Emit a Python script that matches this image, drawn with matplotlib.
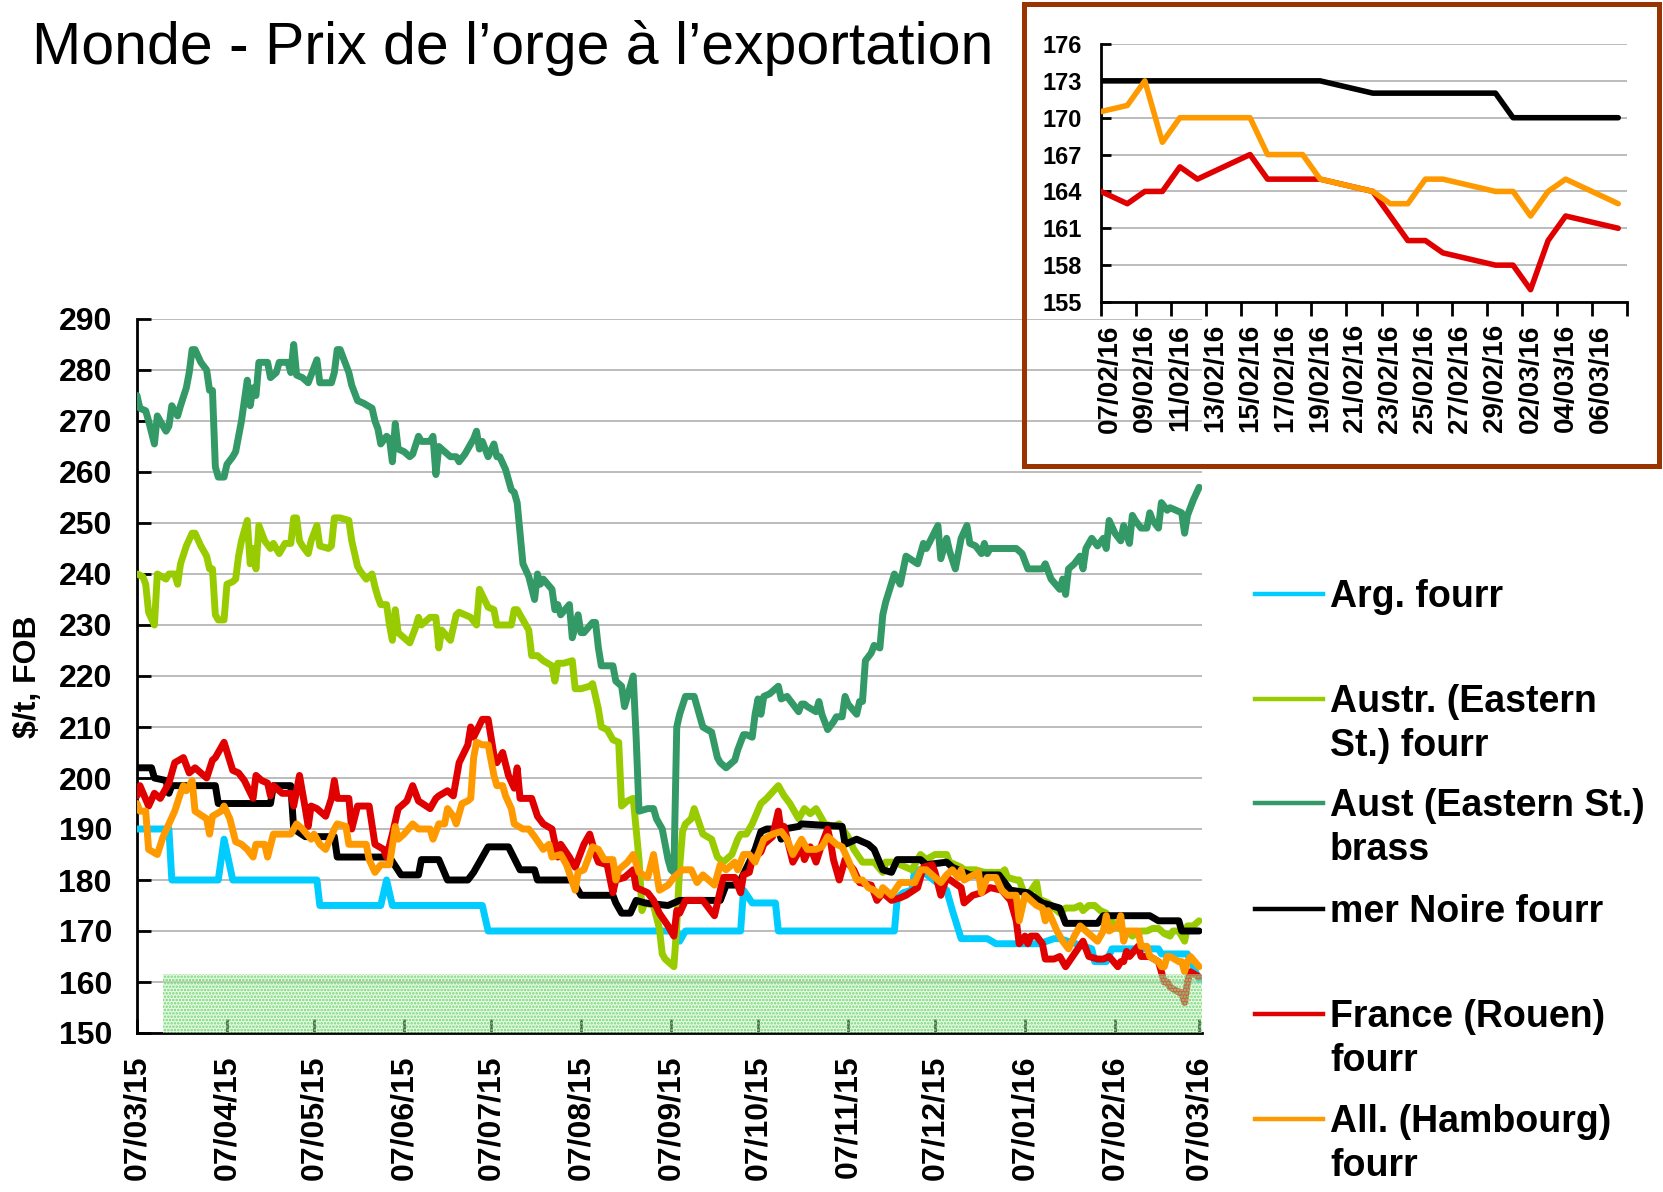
import matplotlib
matplotlib.use('Agg')
import matplotlib.pyplot as plt
import matplotlib.dates as mdates
from matplotlib.lines import Line2D
from matplotlib.patches import Rectangle
import pandas as pd

plt.rcParams['font.family'] = ['Liberation Sans', 'DejaVu Sans']
plt.rcParams['hatch.linewidth'] = 1.2

W, H = 1663, 1192
START = pd.Timestamp('2015-03-07')

# ---- main chart data: x = days since 07/03/2015, y = $/t FOB ----
arg_days = [0, 11, 12, 28, 30, 33, 62, 63, 84, 86, 88, 119, 121, 186, 187, 189, 208, 209, 212, 220,
            221, 261, 262, 264, 267, 268, 270, 279, 281, 284, 293, 296, 311, 316, 318, 329, 330, 334,
            336, 352, 353, 362, 364, 366]
arg_vals = [190, 190, 180, 180, 188, 180, 180, 175, 175, 180, 175, 175, 170, 170, 168, 170, 170, 178,
            175.5, 175.5, 170, 170, 176.5, 177.5, 178, 182, 182, 178, 174, 168.5, 168.5, 167.5, 167.5,
            168.5, 168.5, 166.5, 164, 164, 166.5, 166.5, 165.5, 165.5, 163, 160.5]

austr_days = [0, 2, 3, 4, 6, 7, 10, 11, 13, 14, 15, 17, 19, 20, 22, 24, 25, 26, 27, 28, 30, 31, 33, 34,
              35, 36, 38, 39, 40, 41, 42, 44, 46, 47, 49, 51, 53, 54, 55, 56, 57, 59, 60, 62, 63, 66,
              67, 68, 70, 73, 74, 75, 76, 77, 79, 81, 82, 83, 84, 86, 87, 88, 89, 90, 94, 96, 97, 98,
              101, 103, 104, 105, 108, 110, 111, 115, 117, 118, 121, 123, 124, 129, 130, 131, 135, 136,
              138, 140, 143, 144, 145, 147, 150, 151, 153, 156, 157, 159, 160, 162, 164, 166, 167, 169,
              171, 172, 173, 174, 175, 178, 180, 181, 182, 185, 186, 187, 188, 189, 191, 192, 195, 198,
              200, 202, 205, 207, 208, 210, 212, 215, 217, 221, 223, 225, 227, 228, 230, 232, 234, 237,
              240, 242, 245, 247, 250, 254, 257, 258, 262, 263, 267, 270, 272, 275, 279, 280, 282, 284,
              285, 289, 292, 298, 299, 300, 303, 304, 306, 307, 310, 311, 312, 314, 316, 318, 320, 323,
              325, 326, 328, 330, 332, 334, 337, 340, 342, 343, 346, 348, 350, 352, 354, 356, 357, 359,
              361, 362, 364, 366]
austr_vals = [240, 239.5, 238, 232.5, 230, 240, 239, 240, 240, 238, 242, 245.5, 248, 248, 245.5, 243.5,
              241, 241, 232, 231, 231, 238, 238.5, 239, 243.5, 246.5, 250.5, 242, 245, 241, 249.5,
              246.5, 245, 246, 244, 246, 246, 251, 251, 246.5, 245.5, 244, 246.5, 249.5, 245.5, 245,
              245.5, 251, 251, 250.5, 246.5, 244, 241.5, 240.5, 239, 240, 237.5, 235.5, 234, 234, 230,
              227, 233, 228.5, 226.5, 229.5, 231.5, 230, 231.5, 231.5, 225.5, 229, 227, 232, 232.5,
              231.5, 230, 237, 233.5, 233, 230, 230, 233, 233, 229, 224, 224, 223, 222, 219, 222.5,
              222.5, 223, 217.5, 217.5, 218, 218.5, 213.5, 210, 209.5, 207.5, 207, 194.5, 195.5, 196,
              190, 184, 174, 175.5, 175, 170.5, 165.5, 164.5, 163, 171, 182.5, 189.5, 191, 192, 194,
              189, 188, 184.5, 183.5, 185, 188, 189, 189, 191, 195, 196, 198.5, 196.5, 195, 193, 192,
              194, 193, 194, 191, 190.5, 191, 188.5, 186, 183.5, 183.5, 181.5, 183.5, 183.5, 183, 182,
              185, 184, 185, 185, 183.5, 183, 182.5, 182, 182, 181.5, 181.5, 182, 180.5, 180, 180, 177,
              177, 179.5, 176, 176, 175.5, 174.5, 173.5, 174.5, 174.5, 175, 174, 175, 175, 174, 173.5,
              171, 170, 169.5, 169, 170, 170, 170.5, 170.5, 169.5, 169, 170, 170, 168, 171, 171, 172]

aust_days = [0, 1, 3, 4, 6, 7, 8, 10, 11, 12, 14, 15, 17, 18, 19, 20, 22, 24, 25, 26, 27, 28, 30, 31,
             33, 34, 36, 37, 38, 39, 40, 41, 42, 45, 46, 48, 49, 52, 53, 54, 55, 57, 59, 62, 63, 67,
             68, 69, 70, 73, 74, 76, 78, 81, 82, 83, 84, 86, 87, 88, 89, 90, 92, 94, 95, 97, 98, 101,
             102, 103, 104, 106, 108, 110, 111, 113, 115, 116, 117, 118, 119, 120, 121, 123, 124, 125,
             127, 129, 130, 131, 133, 135, 137, 138, 139, 140, 143, 144, 145, 146, 149, 150, 152, 153,
             154, 157, 158, 159, 160, 164, 165, 167, 168, 170, 171, 172, 173, 176, 178, 179, 181, 183,
             184, 185, 186, 187, 189, 192, 195, 198, 200, 201, 203, 206, 207, 208, 209, 210, 212, 213,
             214, 215, 216, 218, 221, 222, 224, 226, 228, 229, 230, 231, 234, 235, 236, 238, 240, 241,
             243, 244, 245, 248, 249, 250, 251, 253, 254, 256, 257, 258, 261, 263, 265, 269, 271, 272,
             276, 277, 279, 280, 282, 284, 286, 287, 289, 291, 292, 293, 294, 303, 305, 307, 312, 313,
             315, 318, 319, 320, 321, 323, 325, 326, 327, 329, 331, 333, 334, 335, 337, 339, 340, 342,
             343, 344, 346, 348, 349, 350, 352, 353, 355, 356, 360, 361, 362, 364, 366]
aust_vals = [275, 272.5, 272, 270, 265.5, 271, 270, 268, 269, 273, 271, 273, 276.5, 279.5, 284, 284,
             281.5, 280, 276, 276, 261, 259, 259, 261.5, 263, 264, 270, 274, 278, 273, 276.5, 275,
             281.5, 281.5, 278.5, 279.5, 281.5, 281.5, 279.5, 285, 279, 278.5, 277.5, 282, 277.5,
             277.5, 279.5, 284, 284, 279.5, 277, 274, 273.5, 272.5, 270, 268.5, 265.5, 267, 266.5, 262,
             269.5, 264.5, 264, 263, 263.5, 267, 266, 266, 267, 259.5, 265, 264, 263, 263, 262, 263.5,
             265.5, 266.5, 268, 264.5, 266, 264.5, 263, 265.5, 263, 263, 260.5, 256.5, 256, 254, 242,
             239.5, 235, 240, 238, 239, 237, 233, 234, 232, 234, 227.5, 232, 228.5, 228.5, 230.5,
             230.5, 225.5, 222, 222, 219, 218, 214, 218, 220, 208, 193.5, 194, 194, 192, 190, 184, 182,
             181.5, 210, 212.5, 216, 216, 210, 209, 204, 203, 202, 203.5, 205.5, 207, 208.5, 208.5,
             208, 212.5, 215.5, 212.5, 216, 216.5, 218, 215.5, 216, 214.5, 213, 214.5, 214.5, 214, 213,
             215, 212.5, 209.5, 211, 212, 212, 216, 214.5, 212.5, 215, 215, 223, 224.5, 226, 225.5,
             232, 234.5, 240, 238, 243.5, 242, 246, 245, 249.5, 243, 247, 244.5, 241, 247, 249.5, 246,
             245.5, 244, 246, 244, 245, 245, 244, 241, 241, 242, 239, 237, 239, 236, 241, 242, 243.5,
             241, 245, 247, 245.5, 247, 245, 250.5, 248, 246.5, 249.5, 246, 251.5, 250.5, 249, 249,
             252, 250.5, 249, 254, 252.5, 253, 252, 248, 251.5, 254.5, 257]

noire_days = [0, 5, 6, 10, 11, 12, 27, 28, 46, 47, 53, 54, 58, 68, 69, 87, 91, 97, 98, 104, 107, 114,
              116, 121, 128, 132, 137, 138, 150, 153, 164, 165, 167, 170, 172, 175, 183, 187, 201, 203,
              206, 208, 211, 213, 215, 217, 221, 222, 223, 228, 229, 243, 244, 248, 252, 254, 257, 260,
              262, 270, 272, 279, 281, 285, 287, 297, 301, 307, 312, 318, 320, 331, 333, 349, 352, 359,
              360, 366]
noire_vals = [202, 202, 200, 199.5, 197, 198.5, 198.5, 195, 195, 198.5, 198.5, 190, 188.5, 188.5,
              184.5, 184.5, 181, 181, 184, 184, 180, 180, 181.5, 186.5, 186.5, 182, 182, 180, 180, 177,
              177, 175.5, 173.5, 173.5, 176, 175.5, 175, 176, 176, 179, 179, 180, 183.5, 186, 189.5,
              190, 190, 188, 190, 190.5, 191, 190.5, 187, 188, 187, 186, 182, 181.5, 184, 184, 183,
              183.5, 182.5, 181.5, 181, 181, 178, 177.5, 175.5, 174.5, 171.5, 171.5, 173, 173, 172, 172,
              170, 170]

france_days = [0, 1, 4, 6, 8, 11, 13, 16, 18, 20, 24, 26, 27, 30, 33, 35, 37, 40, 41, 43, 45, 46, 47,
               49, 50, 53, 54, 56, 58, 59, 60, 62, 65, 67, 68, 69, 73, 74, 76, 80, 82, 85, 86, 88, 90,
               93, 95, 97, 101, 103, 104, 107, 109, 111, 114, 115, 116, 119, 121, 123, 124, 126, 128,
               130, 131, 132, 136, 138, 140, 143, 145, 146, 149, 151, 154, 156, 158, 159, 162, 164, 165,
               168, 171, 172, 176, 178, 180, 183, 185, 186, 187, 189, 192, 195, 199, 202, 206, 208, 209,
               211, 212, 215, 216, 219, 221, 222, 223, 226, 229, 230, 232, 234, 236, 238, 239, 240, 242,
               244, 247, 249, 253, 255, 257, 260, 263, 265, 269, 271, 274, 275, 277, 279, 284, 285, 288,
               291, 294, 298, 301, 303, 304, 306, 307, 308, 310, 312, 313, 316, 318, 320, 323, 326, 328,
               331, 333, 335, 338, 339, 340, 341, 342, 345, 346, 348, 349, 352, 353, 354, 355, 356, 359,
               360, 361, 362, 363, 366]
france_vals = [196.5, 198.5, 194.5, 197, 196, 199, 203, 204, 201, 202, 200, 203.5, 204, 207, 201.5, 201,
               199.5, 196, 200.5, 199.5, 199, 196.5, 198.5, 197.5, 197, 197, 194.5, 200.5, 194, 190.5,
               194.5, 194, 192.5, 196, 199.5, 196, 196, 190, 194.5, 194.5, 187, 186, 184.5, 189, 194,
               195.5, 198.5, 195.5, 194, 196, 196.5, 197.5, 196.5, 203, 206.5, 210, 208, 211.5, 211.5,
               204.5, 203, 205, 200.5, 198, 202, 196, 196, 192.5, 191, 190, 184.5, 187, 184.5, 182.5,
               187, 189, 185, 183.5, 183, 177.5, 180, 180.5, 182, 178.5, 177.5, 176, 173.5, 171, 169,
               174, 173.5, 176, 176, 176, 173, 180.5, 180.5, 177.5, 181, 181.5, 184, 185.5, 187, 188.5,
               193.5, 189.5, 190.5, 183.5, 186.5, 184, 186.5, 183.5, 187, 190, 187.5, 184, 180, 184,
               182, 179.5, 179, 176, 177.5, 176, 176.5, 177, 178.5, 182.5, 183, 181.5, 177, 180.5,
               178.5, 175.5, 177, 177.5, 178.5, 178, 176, 172, 167.5, 169, 167.5, 169, 169, 167.5,
               164.5, 164.5, 165, 163, 165.5, 168, 165, 164.5, 164.5, 165, 163, 164, 164, 166, 165, 167,
               165, 165, 165, 164, 162, 160, 160, 159, 158, 158, 156, 160, 162, 161]

hamb_days = [0, 1, 3, 4, 7, 9, 11, 13, 15, 16, 17, 19, 20, 24, 25, 26, 29, 30, 32, 34, 36, 38, 40, 41,
             44, 45, 47, 53, 55, 57, 60, 61, 63, 65, 68, 69, 72, 73, 75, 79, 80, 82, 84, 87, 89, 90,
             92, 95, 97, 101, 102, 104, 106, 107, 109, 110, 112, 114, 115, 116, 117, 119, 121, 123,
             124, 126, 127, 129, 130, 133, 135, 137, 140, 142, 143, 146, 148, 151, 152, 154, 157, 159,
             161, 164, 165, 166, 169, 171, 173, 176, 178, 180, 183, 185, 188, 191, 193, 195, 197, 199,
             201, 203, 206, 207, 209, 211, 213, 215, 216, 219, 222, 224, 226, 227, 229, 231, 234, 236,
             238, 241, 243, 245, 248, 250, 252, 254, 256, 257, 260, 263, 268, 270, 272, 275, 277, 279,
             281, 283, 284, 285, 290, 291, 293, 296, 298, 300, 303, 304, 306, 310, 312, 313, 314, 317,
             319, 321, 323, 325, 328, 331, 333, 334, 335, 338, 339, 340, 341, 342, 345, 346, 348, 349,
             352, 353, 354, 355, 356, 359, 360, 361, 362, 363, 366]
hamb_vals = [195, 193.5, 193.5, 186, 185, 188.5, 191, 193.5, 197, 198.5, 197.5, 199.5, 193.5, 192, 189,
             192.5, 193.5, 194.5, 192, 187.5, 187, 186, 184.5, 187, 187, 184.5, 189, 189, 191, 190, 188,
             189, 187, 186, 190, 191, 190.5, 187, 187, 187, 184, 181.5, 183, 183, 190.5, 188, 189, 191,
             190, 190, 188, 191, 191, 194, 192.5, 191, 195, 195.5, 196, 204, 207, 206.5, 206.5, 200.5,
             198.5, 198.5, 196.5, 194, 191, 190, 190, 188.5, 186, 187, 184.5, 185, 183, 178, 181.5,
             182, 186.5, 186, 184, 184, 180, 182, 183.5, 185, 181.5, 180.5, 185, 178, 179, 180.5, 182,
             182, 179.5, 181, 180, 179, 183, 182, 183.5, 182, 185, 185, 183.5, 186.5, 188, 189, 189.5,
             188, 185, 186, 188, 186, 186, 186.5, 188.5, 187, 186.5, 184, 180, 180, 178.5, 178, 177,
             178.5, 177, 179.5, 179.5, 182, 182, 180.5, 179.5, 181, 182, 180.5, 182, 180, 181.5, 177.5,
             180.5, 180.5, 178, 177, 177, 172, 177, 175, 174.5, 172, 174, 170, 168, 166.5, 169, 171,
             169.5, 168, 170, 173, 170, 171, 173, 168, 170, 170, 170, 167, 167, 165, 164, 163, 163, 165,
             165, 164, 164, 162, 164, 165, 163]

legend_labels = [['Arg. fourr'], ['Austr. (Eastern', 'St.) fourr'], ['Aust (Eastern St.)', 'brass'],
                 ['mer Noire fourr'], ['France (Rouen)', 'fourr'], ['All. (Hambourg)', 'fourr']]
colors = ['#00CCFF', '#99CC00', '#339966', '#000000', '#E00000', '#FF9900']

# ---- inset data (last month) ----
inset_dates = ['05/02/2016', '08/02/2016', '09/02/2016', '10/02/2016', '11/02/2016', '12/02/2016',
               '15/02/2016', '16/02/2016', '18/02/2016', '19/02/2016', '22/02/2016', '23/02/2016',
               '24/02/2016', '25/02/2016', '26/02/2016', '29/02/2016', '01/03/2016', '02/03/2016',
               '03/03/2016', '04/03/2016', '07/03/2016']
inset_noire = [173, 173, 173, 173, 173, 173, 173, 173, 173, 173, 172, 172, 172, 172, 172, 172, 170,
               170, 170, 170, 170]
inset_france = [165, 163, 164, 164, 166, 165, 167, 165, 165, 165, 164, 162, 160, 160, 159, 158, 158,
                156, 160, 162, 161]
inset_hamb = [170, 171, 173, 168, 170, 170, 170, 167, 167, 165, 164, 163, 163, 165, 165, 164, 164, 162,
              164, 165, 163]


def to_dates(days):
    return START + pd.to_timedelta(days, unit='D')


fig = plt.figure(figsize=(W / 100, H / 100), dpi=100)

# main chart
ax = fig.add_axes([137 / W, 1 - 1033 / H, (1202 - 137) / W, (1033 - 319) / H])
series = [(arg_days, arg_vals), (austr_days, austr_vals), (aust_days, aust_vals),
          (noire_days, noire_vals), (france_days, france_vals), (hamb_days, hamb_vals)]
for (d, v), c in zip(series, colors):
    ax.plot(to_dates(d), v, color=c, lw=5, solid_joinstyle='round', solid_capstyle='round', zorder=3)

x_end = START + pd.Timedelta(days=367)
ax.set_xlim(START, x_end)
ax.set_ylim(150, 290)
ax.set_yticks(range(150, 291, 10))
ax.set_yticklabels([str(v) for v in range(150, 291, 10)], fontsize=23, fontweight='bold')
months = pd.date_range('2015-03-07', '2016-03-07', freq=pd.DateOffset(months=1))
ax.set_xticks(mdates.date2num(months))
ax.set_xticklabels([m.strftime('%d/%m/%y') for m in months], rotation=90, fontsize=23, fontweight='bold')
ax.tick_params(axis='both', direction='in', length=10, width=2)
ax.tick_params(axis='y', pad=18)
ax.tick_params(axis='x', pad=16)
ax.yaxis.grid(True, color='#B0B0B0', lw=1.2)
ax.set_axisbelow(True)
for s in ['top', 'right']:
    ax.spines[s].set_visible(False)
for s in ['left', 'bottom']:
    ax.spines[s].set_linewidth(2)

# green dotted band at the bottom
x0 = mdates.date2num(pd.Timestamp('2015-03-16'))
ax.add_patch(Rectangle((x0, 150), mdates.date2num(x_end) - x0, 11.5, facecolor=(0.78, 0.95, 0.76, 0.4),
                       edgecolor='#6fd66f', hatch='.....', lw=0, zorder=4))

fig.text(28 / W, 1 - 677 / H, '$/t, FOB', rotation=90, fontsize=23, fontweight='bold',
         ha='center', va='center')
fig.text(32 / W, 1 - 64 / H, 'Monde - Prix de l\u2019orge \u00e0 l\u2019exportation', fontsize=42.5,
         va='baseline', ha='left')

# legend drawn by hand
leg_y = [594, 699, 803, 909, 1014, 1119]
for lines, c, y in zip(legend_labels, colors, leg_y):
    fig.add_artist(Line2D([1255 / W, 1323 / W], [1 - y / H, 1 - y / H], color=c, lw=3.2,
                          transform=fig.transFigure))
    for i, t in enumerate(lines):
        fig.text(1330 / W, 1 - (y + 13 + 44 * i) / H, t, fontsize=27, fontweight='bold',
                 ha='left', va='baseline')

# inset
fig.patches.append(Rectangle((1024 / W, 1 - 466 / H), (1659 - 1024) / W, (466 - 4) / H, fill=False,
                             edgecolor='#993300', lw=3.6, transform=fig.transFigure, figure=fig))
ax2 = fig.add_axes([1101 / W, 1 - 302 / H, (1627 - 1101) / W, (302 - 44) / H])
idates = pd.to_datetime(inset_dates, format='%d/%m/%Y') + pd.Timedelta(hours=12)
for v, c in [(inset_noire, colors[3]), (inset_france, colors[4]), (inset_hamb, colors[5])]:
    ax2.plot(idates, v, color=c, lw=4, solid_joinstyle='round', solid_capstyle='round', zorder=3)
ax2.set_xlim(pd.Timestamp('2016-02-07'), pd.Timestamp('2016-03-08'))
ax2.set_ylim(155, 176)
ax2.set_yticks(range(155, 177, 3))
ax2.set_yticklabels([str(v) for v in range(155, 177, 3)], fontsize=17, fontweight='bold')
lab = pd.date_range('2016-02-07 12:00', periods=15, freq='2D')
ax2.set_xticks(mdates.date2num(lab))
ax2.set_xticklabels([d.strftime('%d/%m/%y') for d in lab], rotation=90, fontsize=20, fontweight='bold')
ax2.set_xticks(mdates.date2num(pd.date_range('2016-02-07', periods=16, freq='2D')), minor=True)
ax2.tick_params(axis='x', which='major', length=0, pad=16)
ax2.tick_params(axis='x', which='minor', direction='out', length=10, width=2)
ax2.tick_params(axis='y', direction='in', length=7, width=2, pad=14)
ax2.yaxis.grid(True, color='#B0B0B0', lw=1.2)
ax2.set_axisbelow(True)
for s in ['top', 'right']:
    ax2.spines[s].set_visible(False)
for s in ['left', 'bottom']:
    ax2.spines[s].set_linewidth(2)

fig.savefig('out.png', dpi=100)
